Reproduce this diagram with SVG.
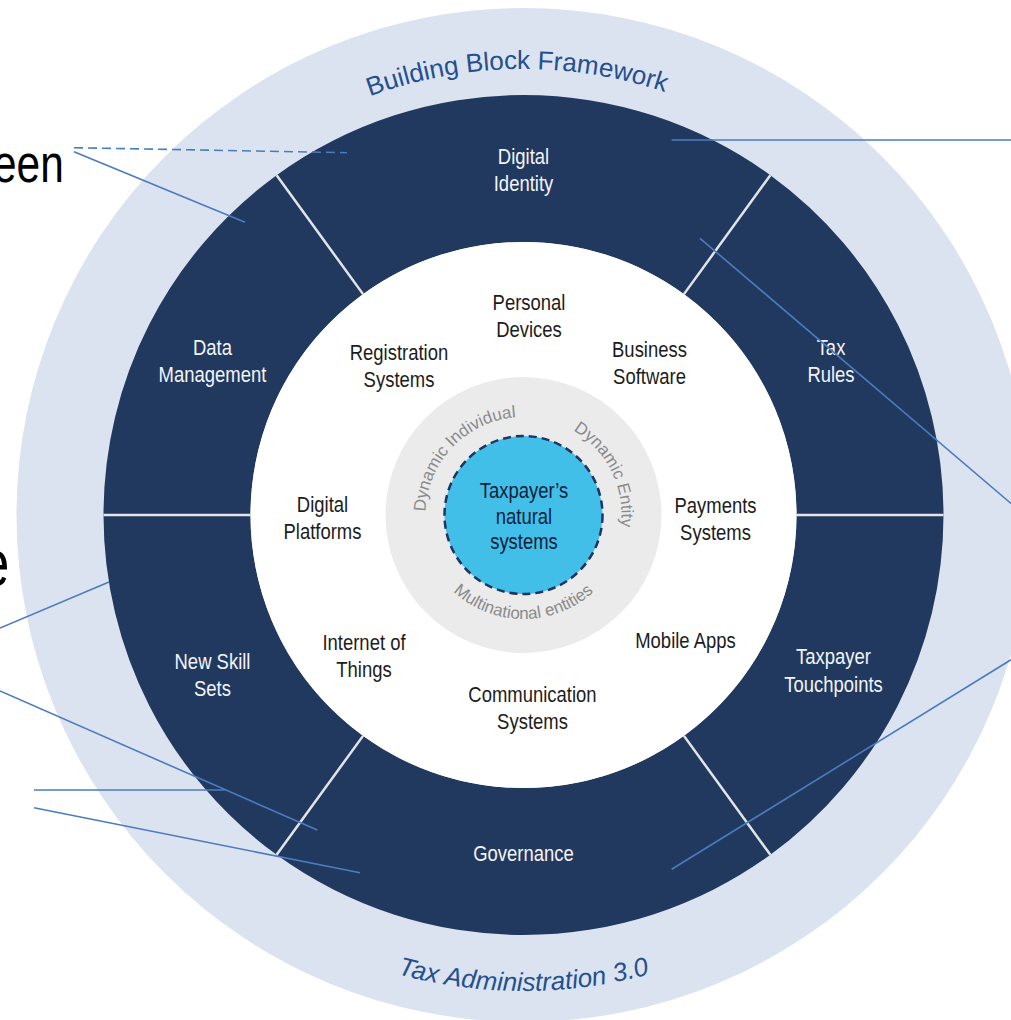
<svg xmlns="http://www.w3.org/2000/svg" width="1011" height="1020" viewBox="0 0 1011 1020">
<style>
.bg{fill:#ffffff}
.outer{fill:#dce3f0}
.seg{fill:#22395f}
.div{stroke:#e2e4e8;stroke-width:2.5;fill:none}
.wl{font-family:"Liberation Sans",Arial,sans-serif;font-size:22px;fill:#f2f4f8;text-anchor:middle}
.dl{font-family:"Liberation Sans",Arial,sans-serif;font-size:22px;fill:#1c1c1c;text-anchor:middle}
.cl{font-family:"Liberation Sans",Arial,sans-serif;font-size:22px;fill:#0e1e38;text-anchor:middle}
.gl{font-family:"Liberation Sans",Arial,sans-serif;font-size:17px;fill:#8a8a8a;text-anchor:middle}
.title{font-family:"Liberation Sans",Arial,sans-serif;font-size:26px;fill:#23508f;text-anchor:middle}
.conn{stroke:#4a7cbf;stroke-width:1.6;fill:none}
.big{font-family:"Liberation Sans",Arial,sans-serif;fill:#000000}
</style>
<defs>
<path id="arcTop" d="M 77.5 515 A 446 446 0 0 1 969.5 515"/>
<path id="arcBottom" d="M 47.5 515 A 476 476 0 0 0 999.5 515"/>
<path id="grayTop" d="M 523.5 613 A 98 98 0 1 1 523.5 417 A 98 98 0 1 1 523.5 613"/>
<path id="grayBottom" d="M 419.5 515 A 104 104 0 0 0 627.5 515"/>
</defs>
<rect class="bg" x="0" y="0" width="1011" height="1020"/>

<g id="outer-ring">
<circle class="outer" cx="523.5" cy="515" r="507"/>
<text class="title"><textPath href="#arcTop" startOffset="694">Building Block Framework</textPath></text>
<text class="title" font-style="italic" font-size="27"><textPath href="#arcBottom" startOffset="50%">Tax Administration 3.0</textPath></text>
</g>

<g id="digital-identity">
<path class="seg" d="M 276.63 175.21 A 420 420 0 0 1 770.37 175.21 L 683.96 294.14 A 273 273 0 0 0 363.04 294.14 Z"/>
<text class="wl" transform="translate(523.5 164) scale(0.84 1)">Digital</text>
<text class="wl" transform="translate(523.5 191) scale(0.84 1)">Identity</text>
</g>
<g id="tax-rules">
<path class="seg" d="M 770.37 175.21 A 420 420 0 0 1 943.5 515 L 796.5 515 A 273 273 0 0 0 683.96 294.14 Z"/>
<text class="wl" transform="translate(831 355) scale(0.84 1)">Tax</text>
<text class="wl" transform="translate(831 382) scale(0.84 1)">Rules</text>
</g>
<g id="taxpayer-touchpoints">
<path class="seg" d="M 943.5 515 A 420 420 0 0 1 770.37 854.79 L 683.96 735.86 A 273 273 0 0 0 796.5 515 Z"/>
<text class="wl" transform="translate(833.5 664) scale(0.84 1)">Taxpayer</text>
<text class="wl" transform="translate(833.5 692) scale(0.84 1)">Touchpoints</text>
</g>
<g id="governance">
<path class="seg" d="M 770.37 854.79 A 420 420 0 0 1 276.63 854.79 L 363.04 735.86 A 273 273 0 0 0 683.96 735.86 Z"/>
<text class="wl" transform="translate(523.5 861) scale(0.84 1)">Governance</text>
</g>
<g id="new-skill-sets">
<path class="seg" d="M 276.63 854.79 A 420 420 0 0 1 103.5 515 L 250.5 515 A 273 273 0 0 0 363.04 735.86 Z"/>
<text class="wl" transform="translate(212.5 669) scale(0.84 1)">New Skill</text>
<text class="wl" transform="translate(212.5 696) scale(0.84 1)">Sets</text>
</g>
<g id="data-management">
<path class="seg" d="M 103.5 515 A 420 420 0 0 1 276.63 175.21 L 363.04 294.14 A 273 273 0 0 0 250.5 515 Z"/>
<text class="wl" transform="translate(212.5 355) scale(0.84 1)">Data</text>
<text class="wl" transform="translate(212.5 382) scale(0.84 1)">Management</text>
</g>

<g id="dividers">
<line class="div" x1="276.63" y1="175.21" x2="363.04" y2="294.14"/>
<line class="div" x1="770.37" y1="175.21" x2="683.96" y2="294.14"/>
<line class="div" x1="103.5" y1="515" x2="250.5" y2="515"/>
<line class="div" x1="943.5" y1="515" x2="796.5" y2="515"/>
<line class="div" x1="276.63" y1="854.79" x2="363.04" y2="735.86"/>
<line class="div" x1="770.37" y1="854.79" x2="683.96" y2="735.86"/>
</g>

<g id="inner-field">
<circle cx="523.5" cy="515" r="273" fill="#ffffff"/>
</g>

<g id="personal-devices"><text class="dl" transform="translate(529 310) scale(0.84 1)">Personal</text><text class="dl" transform="translate(529 337) scale(0.84 1)">Devices</text></g>
<g id="registration-systems"><text class="dl" transform="translate(399 360) scale(0.84 1)">Registration</text><text class="dl" transform="translate(399 387) scale(0.84 1)">Systems</text></g>
<g id="business-software"><text class="dl" transform="translate(649.5 357) scale(0.84 1)">Business</text><text class="dl" transform="translate(649.5 384) scale(0.84 1)">Software</text></g>
<g id="digital-platforms"><text class="dl" transform="translate(322.5 512) scale(0.84 1)">Digital</text><text class="dl" transform="translate(322.5 539) scale(0.84 1)">Platforms</text></g>
<g id="payments-systems"><text class="dl" transform="translate(715.5 513) scale(0.84 1)">Payments</text><text class="dl" transform="translate(715.5 540) scale(0.84 1)">Systems</text></g>
<g id="internet-of-things"><text class="dl" transform="translate(364 650) scale(0.84 1)">Internet of</text><text class="dl" transform="translate(364 677) scale(0.84 1)">Things</text></g>
<g id="mobile-apps"><text class="dl" transform="translate(685.5 648) scale(0.84 1)">Mobile Apps</text></g>
<g id="communication-systems"><text class="dl" transform="translate(532.5 702) scale(0.84 1)">Communication</text><text class="dl" transform="translate(532.5 729) scale(0.84 1)">Systems</text></g>

<g id="entity-ring">
<circle cx="523.5" cy="515" r="138" fill="#ebebeb"/>
<text class="gl"><textPath href="#grayTop" startOffset="228.5">Dynamic Individual</textPath></text>
<text class="gl"><textPath href="#grayTop" startOffset="416.3">Dynamic Entity</textPath></text>
<text class="gl"><textPath href="#grayBottom" startOffset="50%">Multinational entities</textPath></text>
</g>

<g id="taxpayer-natural-systems">
<circle cx="523.5" cy="515" r="79" fill="#42bfe9" stroke="#1e3461" stroke-width="2.5" stroke-dasharray="8 5"/>
<text class="cl" transform="translate(524 497.5) scale(0.84 1)">Taxpayer’s</text>
<text class="cl" transform="translate(524 523.5) scale(0.84 1)">natural</text>
<text class="cl" transform="translate(524 549) scale(0.84 1)">systems</text>
</g>

<g id="side-text">
<text class="big" font-size="53" transform="translate(-7 181.5) scale(0.8 1)">een</text>
<text class="big" font-size="66" transform="translate(-20 586) scale(0.8 1)">e</text>
</g>

<g id="connectors">
<line class="conn" x1="74" y1="147.7" x2="347" y2="152.7" stroke-dasharray="9 5"/>
<line class="conn" x1="74" y1="151.7" x2="245" y2="222.3"/>
<line class="conn" x1="671.7" y1="140" x2="1011" y2="140"/>
<line class="conn" x1="700" y1="238.3" x2="1011" y2="503.5"/>
<line class="conn" x1="1011" y1="659.8" x2="671.7" y2="869.3"/>
<line class="conn" x1="0" y1="628" x2="109" y2="582"/>
<line class="conn" x1="0" y1="691" x2="317.3" y2="830"/>
<line class="conn" x1="34" y1="790" x2="225" y2="790"/>
<line class="conn" x1="34" y1="807.7" x2="360" y2="872.7"/>
</g>
</svg>
